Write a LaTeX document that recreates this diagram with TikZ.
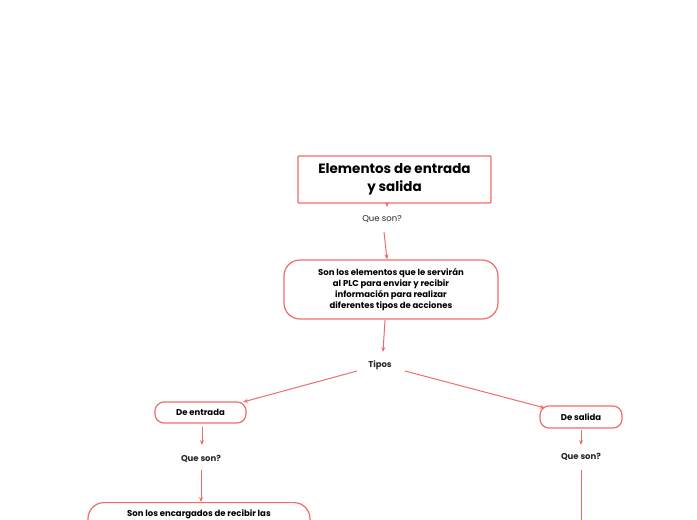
\documentclass[tikz,border=0pt]{standalone}
\usepackage{fontspec}
\setmainfont{Poppins}
\usetikzlibrary{arrows.meta}
\definecolor{lc}{HTML}{F26B6B}
\begin{document}
\begin{tikzpicture}[x=1pt,y=-1pt,
  box/.style={draw=lc,line width=1.2pt,rounded corners=12pt,align=center,font=\fontsize{8.5}{11}\selectfont\bfseries,inner sep=0},
  lbl/.style={align=center,font=\fontsize{8.5}{11}\selectfont\bfseries,text=black!85},
  conn/.style={draw=lc,line width=1pt,-{Stealth[length=5pt,width=4pt]}}]
\useasboundingbox (0,0) rectangle (697,520);
\clip (0,0) rectangle (697,520);
\node[box,rounded corners=1pt,minimum width=193pt,minimum height=47pt,font=\fontsize{13.5}{18}\selectfont\bfseries] (title) at (394.5,179.5) {Elementos de entrada\\ y salida};
\node[lbl,font=\fontsize{8.5}{11}\selectfont] (q1) at (382,219) {Que son?};
\node[box,rounded corners=16pt,minimum width=214pt,minimum height=59pt] (def) at (391,289.5) {Son los elementos que le servirán\\al PLC para enviar y recibir\\información para realizar\\diferentes tipos de acciones};
\node[lbl] (tipos) at (380,365) {Tipos};
\node[box,rounded corners=9pt,minimum width=91pt,minimum height=21pt] (ent) at (200.5,412.5) {De entrada};
\node[box,rounded corners=9pt,minimum width=82pt,minimum height=22pt] (sal) at (581,417) {De salida};
\node[lbl] (q2) at (201,459) {Que son?};
\node[lbl] (q3) at (581,457) {Que son?};
\node[box,rounded corners=16pt,minimum width=222pt,minimum height=50pt,anchor=north,text depth=30pt] (ent2) at (199,502) {\raisebox{0pt}{Son los encargados de recibir las}};
\coordinate (salend) at (581,530);
\draw[conn] (387,203) -- (387,207);
\draw[conn] (384,232) -- (def.north -| 387,0);
\draw[conn] (385,320) -- (383,352);
\draw[conn] (357,371) -- (243,402);
\draw[conn] (405,371) -- (545,408);
\draw[conn] (202,427) -- (202,445);
\draw[conn] (201,470) -- (ent2.north -| 201,0);
\draw[conn] (581,430) -- (581,445);
\draw[conn] (581,470) -- (salend);
\end{tikzpicture}
\end{document}
